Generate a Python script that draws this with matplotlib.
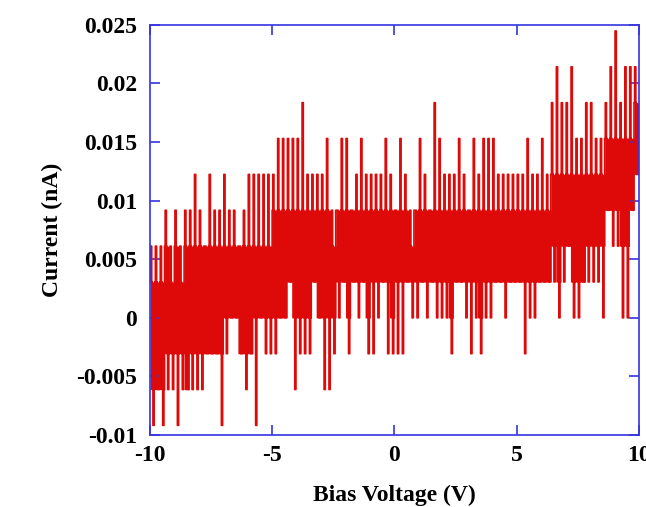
import matplotlib.pyplot as plt
import numpy as np

# current is quantised: one level = 1/327 nA
step = 0.00306

# extreme levels (in steps) reached in each 0.2 V slice, from -10 V to +10 V
hi_lvl = [2, 2, 2, 3, 2, 3, 2, 3, 3, 4,
          3, 2, 4, 3, 3, 4, 3, 3, 2, 3,
          4, 4, 4, 4, 4, 4, 5, 5, 5, 5,
          5, 6, 4, 4, 4, 4, 5, 3, 3, 5,
          5, 3, 4, 5, 4, 4, 4, 4, 5, 4,
          3, 5, 4, 3, 3, 5, 4, 3, 6, 5,
          4, 4, 4, 5, 4, 3, 5, 4, 5, 5,
          5, 4, 4, 4, 4, 4, 4, 5, 4, 4,
          5, 4, 6, 7, 6, 6, 7, 5, 5, 6,
          6, 5, 5, 6, 7, 8, 6, 7, 7, 7]
lo_lvl = [-3, -2, -3, -2, -2, -3, -2, -2, -2, -2,
          -2, -1, -1, -1, -3, -1, 0, 0, -1, -2,
          -1, -3, 0, -1, -1, -1, 0, 0, 1, -2,
          -1, -1, -1, 1, 0, -2, -2, -1, 0, 1,
          -1, 1, 0, 1, -1, -1, 0, 1, -1, -1,
          -1, -1, 1, 0, 0, 1, 0, 1, 0, 0,
          0, -1, 1, 1, 0, -1, 0, -1, 0, 0,
          1, 1, 0, 1, 1, 1, -1, 0, 0, 1,
          1, 1, 1, 0, 1, 2, 0, 0, 1, 1,
          1, 1, 0, 3, 2, 2, 0, 0, 3, 4]

# levels the trace keeps returning to (dense core) in each slice
core_hi = [1, 1, 1, 2, 1, 2, 1, 2, 2, 2,
           2, 2, 2, 2, 2, 2, 2, 2, 2, 2,
           2, 2, 2, 2, 2, 3, 3, 3, 3, 3,
           3, 3, 3, 3, 3, 3, 3, 2, 3, 3,
           3, 3, 3, 3, 3, 3, 3, 3, 3, 3,
           3, 3, 3, 2, 3, 3, 3, 3, 3, 3,
           3, 3, 3, 3, 3, 3, 3, 3, 3, 3,
           3, 3, 3, 3, 3, 3, 3, 3, 3, 3,
           3, 3, 4, 4, 4, 4, 4, 4, 4, 4,
           4, 4, 4, 5, 5, 5, 5, 5, 5, 6]
core_lo = [-2, -2, -2, -1, -1, -1, -1, -2, -1, -1,
           -1, -1, -1, -1, -1, 0, 0, 0, -1, -1,
           -1, 0, 0, 0, 0, 0, 0, 0, 1, 0,
           0, 0, 0, 1, 0, 0, 0, 0, 1, 1,
           0, 1, 1, 1, 0, 1, 1, 1, 1, 0,
           1, 1, 1, 1, 1, 1, 1, 1, 1, 1,
           1, 0, 1, 1, 1, 1, 1, 0, 1, 1,
           1, 1, 1, 1, 1, 1, 1, 1, 1, 1,
           1, 1, 2, 1, 2, 2, 1, 1, 1, 2,
           2, 2, 2, 3, 3, 3, 2, 2, 3, 4]

hi = np.array(hi_lvl)
lo = np.array(lo_lvl)
ch = np.minimum(core_hi, hi)
cl = np.maximum(core_lo, lo)

# each slice: spike up, back to the core, spike down, back
levels = np.column_stack([ch, hi, hi, ch, cl, lo, lo, cl]).ravel()
band_hi = np.repeat(ch, 8) * step
band_lo = np.repeat(cl, 8) * step
current = levels * step
voltage = -10 + (np.arange(len(current)) + 0.5) * 20 / len(current)

fig = plt.figure(figsize=(6.46, 5.07), dpi=100)
ax = fig.add_axes([0.232, 0.142, 0.757, 0.809])

red = "#de0a0a"
ax.fill_between(voltage, band_lo, band_hi, step="mid", color=red, linewidth=0)
ax.plot(voltage, current, color=red, linewidth=1.2, drawstyle="steps-mid")

ax.set_xlim(-10, 10)
ax.set_ylim(-0.01, 0.025)

blue = "#3535e0"
for sp in ax.spines.values():
    sp.set_color(blue)
    sp.set_linewidth(1.2)

font = {"family": "Liberation Serif", "weight": "bold", "size": 17}

ax.set_xticks([-10, -5, 0, 5, 10])
ax.set_xticklabels(["-10", "-5", "0", "5", "10"], fontdict=font)
ax.set_yticks([-0.01, -0.005, 0, 0.005, 0.01, 0.015, 0.02, 0.025])
ax.set_yticklabels(["-0.01", "-0.005", "0", "0.005", "0.01", "0.015", "0.02", "0.025"],
                   fontdict=font)
ax.tick_params(direction="in", length=7, width=1.2, color=blue,
               top=True, right=True, pad=7)
ax.tick_params(axis="y", pad=9)

ax.set_xlabel("Bias Voltage (V)", fontdict=font, labelpad=14)
ax.set_ylabel("Current (nA)", fontdict=font, labelpad=10)

fig.savefig("out.png", dpi=100)
